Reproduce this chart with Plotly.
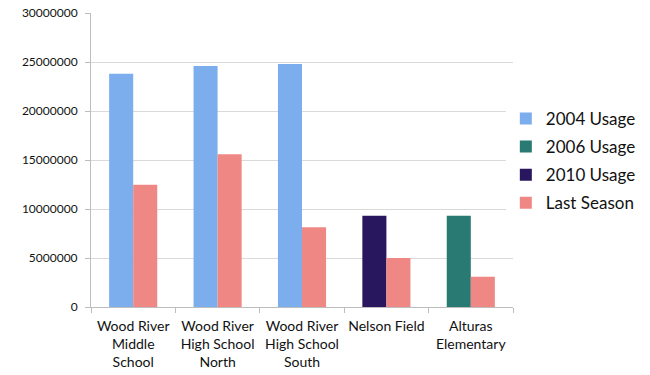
import plotly.graph_objects as go

categories = ["Wood River<br>Middle<br>School", "Wood River<br>High School<br>North",
              "Wood River<br>High School<br>South", "Nelson Field", "Alturas<br>Elementary"]
usage_2004 = [23800000, 24600000, 24800000, None, None]
usage_2006 = [None, None, None, None, 9300000]
usage_2010 = [None, None, None, 9300000, None]
last_season = [12480000, 15580000, 8130000, 5000000, 3090000]

fig = go.Figure()
fig.add_trace(go.Bar(name="2004 Usage", x=categories, y=usage_2004, offsetgroup="a",
                     legendgroup="g1", marker=dict(color="#7cadec", line=dict(width=0))))
fig.add_trace(go.Bar(name="2006 Usage", x=categories, y=usage_2006, offsetgroup="a",
                     legendgroup="g2", marker=dict(color="#287a72", line=dict(width=0))))
fig.add_trace(go.Bar(name="2010 Usage", x=categories, y=usage_2010, offsetgroup="a",
                     legendgroup="g3", marker=dict(color="#28165e", line=dict(width=0))))
fig.add_trace(go.Bar(name="Last Season", x=categories, y=last_season, offsetgroup="b",
                     legendgroup="g4", marker=dict(color="#ef8884", line=dict(width=0))))

fig.update_layout(
    width=650, height=375,
    margin=dict(l=91, r=137, t=13, b=68, autoexpand=False),
    paper_bgcolor="white", plot_bgcolor="white",
    barmode="group", bargap=0.43, bargroupgap=0,
    font=dict(family="Lato, Liberation Sans, sans-serif", color="#111111"),
    showlegend=True,
    legend=dict(x=0.983, y=0.497, xanchor="left", yanchor="middle", itemwidth=30,
                font=dict(size=17), traceorder="grouped", tracegroupgap=3),
    xaxis=dict(showline=True, linecolor="#bdbdbd", ticks="outside", tickson="boundaries",
               ticklen=5, tickcolor="#bdbdbd", tickfont=dict(size=14), showgrid=False,
               tickangle=0, automargin=False, ticklabelstandoff=6),
    yaxis=dict(range=[0, 30000000], dtick=5000000, tickformat="d", showline=True,
               linecolor="#bdbdbd", ticks="outside", ticklen=5, tickcolor="#bdbdbd",
               gridcolor="#d9d9d9", tickfont=dict(size=12), zeroline=False,
               automargin=False, ticklabelstandoff=5),
)
fig.write_html("out.html", config={"displayModeBar": False},
               post_script="document.body.style.margin='0';document.body.style.padding='0';")
